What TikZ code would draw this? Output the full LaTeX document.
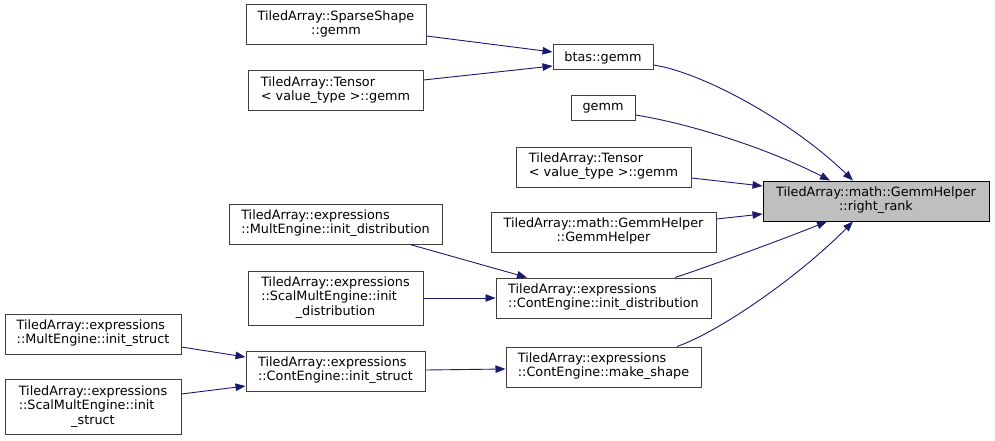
\documentclass[tikz,border=0pt]{standalone}
\usepackage{fontspec}
\setmainfont{DejaVu Sans}
\usetikzlibrary{arrows.meta}
\definecolor{edgeblue}{HTML}{191970}
\definecolor{boxgrey}{HTML}{404040}
\definecolor{rootfill}{HTML}{BFBFBF}
\newcommand\twol[2]{\begin{tabular}{@{}l@{}}#1\\\multicolumn{1}{@{}c@{}}{#2}\end{tabular}}
\newcommand\threel[3]{\begin{tabular}{@{}l@{}}#1\\#2\\\multicolumn{1}{@{}c@{}}{#3}\end{tabular}}
\begin{document}
\begin{tikzpicture}[x=1pt,y=-1pt,
  fn/.style={draw=boxgrey,line width=1pt,fill=white,inner sep=0pt,
    font=\fontsize{12.8}{14.2}\selectfont},
  root/.style={fn,draw=black,fill=rootfill},
  call/.style={draw=edgeblue,line width=0.9pt,-{Triangle[length=10pt,width=7.5pt]}}]
\useasboundingbox (0,0) rectangle (995,441);
% nodes
\node[fn,minimum width=180pt,minimum height=40pt] (sparse) at (336,25) {\twol{TiledArray::SparseShape}{::gemm}};
\node[fn,minimum width=175pt,minimum height=40pt] (tensorA) at (335.5,91) {\twol{TiledArray::Tensor}{< value\_type >::gemm}};
\node[fn,minimum width=100pt,minimum height=25pt] (btas) at (603,57.5) {btas::gemm};
\node[fn,minimum width=64pt,minimum height=25pt] (gemm) at (603,108.5) {gemm};
\node[fn,minimum width=175pt,minimum height=40pt] (tensorB) at (603.5,167) {\twol{TiledArray::Tensor}{< value\_type >::gemm}};
\node[root,minimum width=226pt,minimum height=40pt] (rank) at (876,201) {\twol{TiledArray::math::GemmHelper}{::right\_rank}};
\node[fn,minimum width=225pt,minimum height=40pt] (helper) at (603.5,232) {\twol{TiledArray::math::GemmHelper}{::GemmHelper}};
\node[fn,minimum width=213pt,minimum height=40pt] (multdist) at (335.5,224) {\twol{TiledArray::expressions}{::MultEngine::init\_distribution}};
\node[fn,minimum width=175pt,minimum height=54pt] (scaldist) at (335.5,298) {\threel{TiledArray::expressions}{::ScalMultEngine::init}{\_distribution}};
\node[fn,minimum width=215pt,minimum height=40pt] (contdist) at (603.5,298) {\twol{TiledArray::expressions}{::ContEngine::init\_distribution}};
\node[fn,minimum width=176pt,minimum height=40pt] (multstruct) at (93,334) {\twol{TiledArray::expressions}{::MultEngine::init\_struct}};
\node[fn,minimum width=176pt,minimum height=55pt] (scalstruct) at (93,407) {\threel{TiledArray::expressions}{::ScalMultEngine::init}{\_struct}};
\node[fn,minimum width=179pt,minimum height=40pt] (contstruct) at (335.5,371) {\twol{TiledArray::expressions}{::ContEngine::init\_struct}};
\node[fn,minimum width=195pt,minimum height=40pt] (shape) at (603.5,367) {\twol{TiledArray::expressions}{::ContEngine::make\_shape}};
% edges
\draw[call] ([yshift=-11pt]sparse.east) -- ([yshift=5.5pt]btas.west);
\draw[call] ([yshift=11pt]tensorA.east) -- ([yshift=-8.5pt]btas.west);
\draw[call] ([yshift=-7.5pt]btas.east) .. controls +(47,7) and +(-63,-61) .. ([xshift=-23pt]rank.north);
\draw[call] ([yshift=-6.5pt]gemm.east) .. controls +(45,7) and +(-70,-36) .. ([xshift=-46pt]rank.north);
\draw[call] ([yshift=-11pt]tensorB.east) -- ([yshift=15pt]rank.west);
\draw[call] ([yshift=13pt]helper.east) -- ([yshift=-13pt]rank.west);
\draw[call] ([xshift=71.5pt]contdist.north) .. controls +(25,-8) and +(-47,19) .. ([xshift=-49pt]rank.south);
\draw[call] ([xshift=73.5pt]shape.north) .. controls +(43,-15) and +(-53,54) .. ([xshift=-23pt]rank.south);
\draw[call] ([xshift=74.5pt]multdist.south) -- ([xshift=-76.5pt]contdist.north);
\draw[call] (scaldist.east) -- (contdist.west);
\draw[call] ([yshift=-13pt]multstruct.east) -- ([yshift=14pt]contstruct.west);
\draw[call] ([yshift=13pt]scalstruct.east) -- ([yshift=-15pt]contstruct.west);
\draw[call] ([yshift=1pt]contstruct.east) -- ([yshift=-2pt]shape.west);
\end{tikzpicture}
\end{document}
